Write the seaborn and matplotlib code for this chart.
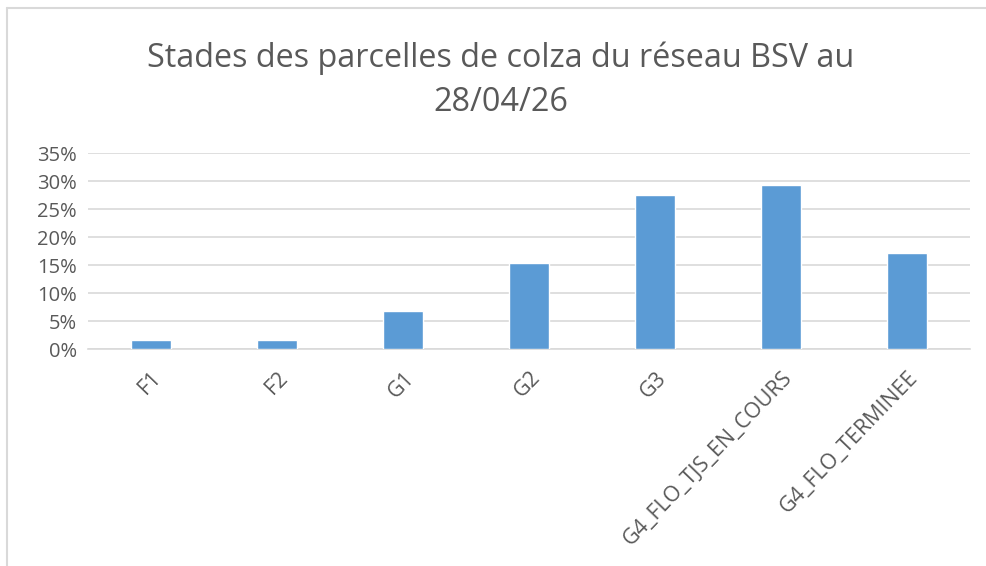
import matplotlib

matplotlib.use("Agg")

import matplotlib.pyplot as plt
import pandas as pd
import seaborn as sns
from matplotlib.lines import Line2D
from matplotlib.ticker import PercentFormatter

stades = ["F1", "F2", "G1", "G2", "G3", "G4_FLO_TJS_EN_COURS", "G4_FLO_TERMINEE"]
parts = [0.0172, 0.0172, 0.069, 0.155, 0.276, 0.293, 0.172]
yticks = [0, 0.05, 0.10, 0.15, 0.20, 0.25, 0.30, 0.35]

TEXT = "#595959"
BAR = "#5B9BD5"
GRID = "#D9D9D9"

sns.set_style("white")
plt.rcParams["font.family"] = ["Open Sans", "DejaVu Sans"]

df = pd.DataFrame({"stade": stades, "part": parts})

fig = plt.figure(figsize=(9.87, 5.66), dpi=100)
ax = fig.add_axes([0.0892, 0.3828, 0.8938, 0.3462])

sns.barplot(data=df, x="stade", y="part", color=BAR, width=0.313,
            saturation=1, ax=ax, zorder=3)

ax.set_ylim(0, 0.35)
ax.set_xlim(-0.5, len(stades) - 0.5)
ax.set_yticks(yticks)
ax.yaxis.set_major_formatter(PercentFormatter(1.0, decimals=0))
ax.grid(axis="y", color=GRID, linewidth=1.2, zorder=0)
for side in ["top", "right", "left"]:
    ax.spines[side].set_visible(False)
ax.spines["bottom"].set_color(GRID)
ax.spines["bottom"].set_linewidth(1.2)
ax.set_xlabel("")
ax.set_ylabel("")
ax.tick_params(axis="both", length=0, colors=TEXT)
ax.tick_params(axis="y", pad=8, labelsize=14.5)
ax.tick_params(axis="x", pad=13, labelsize=15.5)
plt.setp(ax.get_xticklabels(), rotation=46, ha="right", rotation_mode="anchor")

fig.text(0.507, 0.858, "Stades des parcelles de colza du réseau BSV au\n28/04/26",
         ha="center", va="center", fontsize=23.3, color=TEXT, linespacing=1.45)

# chart area border (left and top visible)
fig.add_artist(Line2D([0.0075, 0.0075], [0, 0.986], color=GRID, linewidth=1.5,
                      transform=fig.transFigure))
fig.add_artist(Line2D([0.0075, 1.0], [0.986, 0.986], color=GRID, linewidth=1.5,
                      transform=fig.transFigure))

fig.savefig("out.png", dpi=100)
